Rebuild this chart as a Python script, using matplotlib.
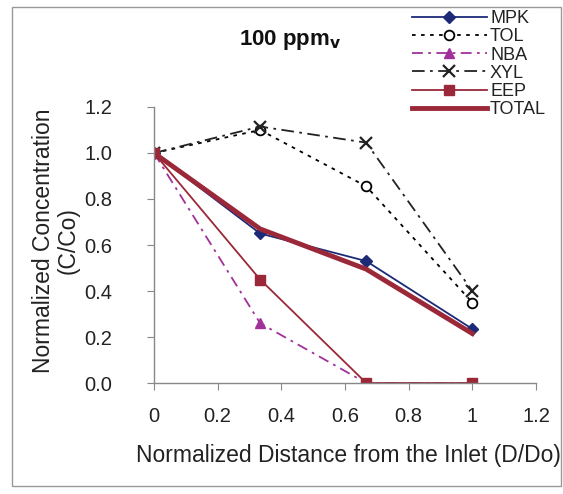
import matplotlib
matplotlib.use("Agg")
import matplotlib.pyplot as plt
from matplotlib.patches import Rectangle

plt.rcParams['font.family'] = ['Liberation Sans', 'DejaVu Sans']

x = [0, 1/3, 2/3, 1]
mpk = [1.0, 0.65, 0.53, 0.235]
tol = [1.0, 1.10, 0.855, 0.35]
nba = [1.0, 0.26, 0.0, 0.0]
xyl = [1.0, 1.115, 1.045, 0.40]
eep = [1.0, 0.45, 0.0, 0.0]
total = [1.0, 0.67, 0.495, 0.215]

xticks = [0, 0.2, 0.4, 0.6, 0.8, 1, 1.2]
xticklabels = ["0", "0.2", "0.4", "0.6", "0.8", "1", "1.2"]
yticks = [0.0, 0.2, 0.4, 0.6, 0.8, 1.0, 1.2]
yticklabels = ["0.0", "0.2", "0.4", "0.6", "0.8", "1.0", "1.2"]

W, H = 563, 494
fig = plt.figure(figsize=(W/100, H/100), dpi=100)
ax = fig.add_axes([154/W, 1-383/H, (536-154)/W, (383-107)/H])

navy = '#1c2a78'
purple = '#a0309a'
maroon = '#9a2838'
dark = '#222222'
txt = '#222222'

l1, = ax.plot(x, mpk, color=navy, lw=1.3, marker='D', ms=6, mfc=navy, mec=navy, label='MPK')
l2, = ax.plot(x, tol, color='black', lw=1.3, ls=(0, (2, 3)), marker='o', ms=7, mfc='white', mec='black', mew=1.3, label='TOL')
l3, = ax.plot(x, nba, color=purple, lw=1.3, ls=(0, (6, 3, 1.5, 3)), marker='^', ms=7, mfc=purple, mec=purple, label='NBA')
l4, = ax.plot(x, xyl, color=dark, lw=1.3, ls=(0, (7, 3, 1.5, 3)), marker='x', ms=9, mew=1.6, mec=dark, label='XYL')
l5, = ax.plot(x, eep, color=maroon, lw=1.3, marker='s', ms=7, mfc=maroon, mec=maroon, label='EEP')
l6, = ax.plot(x, total, color=maroon, lw=3.5, label='TOTAL')

ax.set_xlim(0, 1.2)
ax.set_ylim(0, 1.2)
ax.set_xticks(xticks)
ax.set_xticklabels(xticklabels)
ax.set_yticks(yticks)
ax.set_yticklabels(yticklabels)
ax.spines['top'].set_visible(False)
ax.spines['right'].set_visible(False)
for s in ['left', 'bottom']:
    ax.spines[s].set_color('#888888')
    ax.spines[s].set_linewidth(1.0)
ax.xaxis.set_tick_params(direction='out', length=5, color='#888888', labelsize=14.5,
                         labelcolor=txt, pad=12)
ax.yaxis.set_tick_params(direction='out', length=5, color='#888888', labelsize=14.5,
                         labelcolor=txt, pad=25)
for sp in ax.spines.values():
    sp.set_clip_on(False)

fig.text(348/W, 1-455/H, 'Normalized Distance from the Inlet (D/Do)', fontsize=16.5,
         color=txt, ha='center', va='center')
fig.text(44/W, 1-241/H, 'Normalized Concentration', fontsize=16.5, color=txt,
         ha='center', va='center', rotation=90)
fig.text(68/W, 1-241/H, '(C/Co)', fontsize=16.5, color=txt,
         ha='center', va='center', rotation=90)

fig.text(290/W, 1-45/H, r'100 ppm$_\mathbf{v}$', fontsize=16, fontweight='bold',
         ha='center', va='baseline', color='#111111')

leg = fig.legend(handles=[l1, l2, l3, l4, l5, l6], loc='upper left',
                 bbox_to_anchor=(412/W, 1-10/H), frameon=False,
                 fontsize=13, handlelength=4.15, handletextpad=0.17,
                 labelspacing=0.07, borderpad=0, borderaxespad=0)
for t in leg.get_texts():
    t.set_color(txt)

fig.patches.append(Rectangle((12/W, 1-486/H), (561-12)/W, (486-7)/H, transform=fig.transFigure,
                             fill=False, edgecolor='#999999', lw=1.0))

fig.savefig('out.png', dpi=100)
